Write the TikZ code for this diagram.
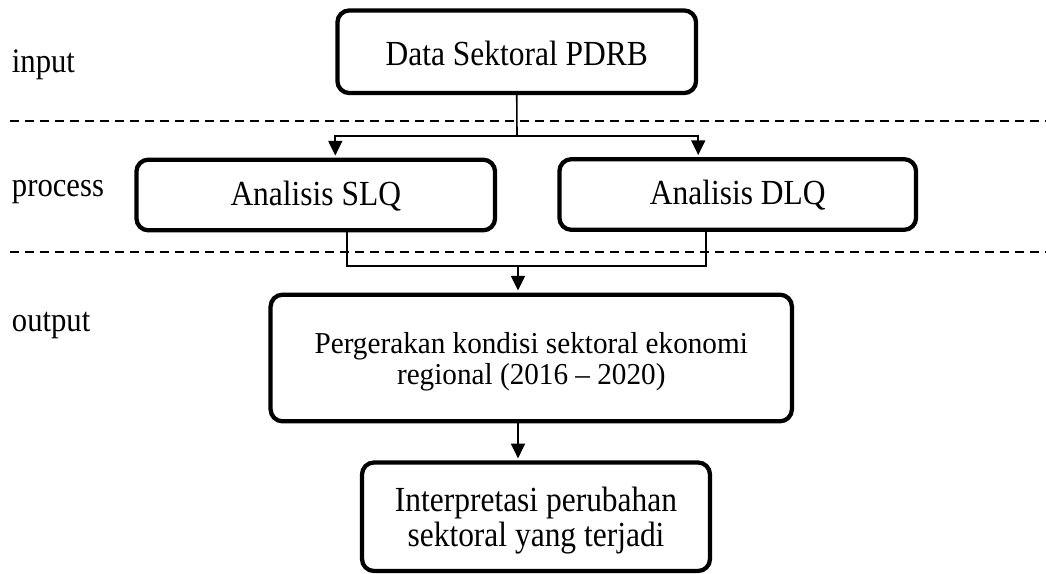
\documentclass[tikz,border=0pt]{standalone}
\usepackage{fontspec}
\setmainfont{Liberation Serif}
\usepackage{graphicx}
\usetikzlibrary{arrows.meta, calc, positioning}

% the lettering is drawn a little taller than wide
\newcommand{\tallt}[2][1.12]{\scalebox{1}[#1]{#2}}
\newcommand{\twoline}[2]{\begin{tabular}[b]{@{}c@{}}#1\\ #2\end{tabular}}

\begin{document}
\begin{tikzpicture}[x=0.75pt, y=-0.75pt,
    box/.style={draw, line width=3.2pt, rounded corners=9pt, align=center,
                inner sep=0pt, text depth=0pt,
                font=\fontsize{23.6}{21.9}\selectfont},
    lbl/.style={anchor=base west, inner sep=0pt,
                font=\fontsize{23}{26}\selectfont},
    link/.style={line width=1.2pt},
    arr/.style={link, -{Triangle[length=11pt, width=10.5pt]}, shorten >=1.5pt},
    sep/.style={line width=1.2pt, dash pattern=on 6.75pt off 4.5pt},
]
\useasboundingbox (0,0) rectangle (1046,574);

% stage separators
\draw[sep] (10,121) -- (1046,121);
\draw[sep] (10,252) -- (1046,252);

% stage labels
\node[lbl] (lin)  at (11.7,72.7)  {\tallt{input}};
\node[lbl] (lpro) at (11.7,196)   {\tallt{process}};
\node[lbl] (lout) at (11.7,331.7) {\tallt{output}};

% boxes
\node[box, minimum width=269pt, minimum height=62pt, text height=19.9pt]
   (data) at (516.75,51.75) {\tallt{Data Sektoral PDRB}};
\node[box, minimum width=269pt, minimum height=53pt, text height=15pt]
   (slq) at (315.75,195) {\tallt{Analisis SLQ}};
\node[box, minimum width=267.5pt, minimum height=53pt, text height=15pt]
   (dlq) at (737.75,194.5) {\tallt{Analisis DLQ}};
\node[box, minimum width=391pt, minimum height=95pt, text height=39.5pt,
      font=\fontsize{21.9}{22.4}\selectfont]
   (out) at (531.25,358)
   {\tallt[1.04]{\twoline{Pergerakan kondisi sektoral ekonomi}{regional (2016 -- 2020)}}};
\node[box, minimum width=261pt, minimum height=81.4pt, text height=43.9pt]
   (interp) at (536,516.75)
   {\tallt{\twoline{Interpretasi perubahan}{sektoral yang terjadi}}};

% connectors
\coordinate (split) at (517,136);
\draw[link] (data.south) -- (split);
\draw[arr] (split) -| (data.west |- slq.north);
\draw[arr] (split) -| (data.east |- dlq.north);

\coordinate (sjoin) at (347,266);
\coordinate (djoin) at (706,266);
\coordinate (join)  at (518,266);
\draw[link] (sjoin |- slq.south) -- (sjoin) -- (djoin) -- (djoin |- dlq.south);
\draw[arr] (join) -- (join |- out.north);
\draw[arr] (join |- out.south) -- (join |- interp.north);
\end{tikzpicture}
\end{document}
